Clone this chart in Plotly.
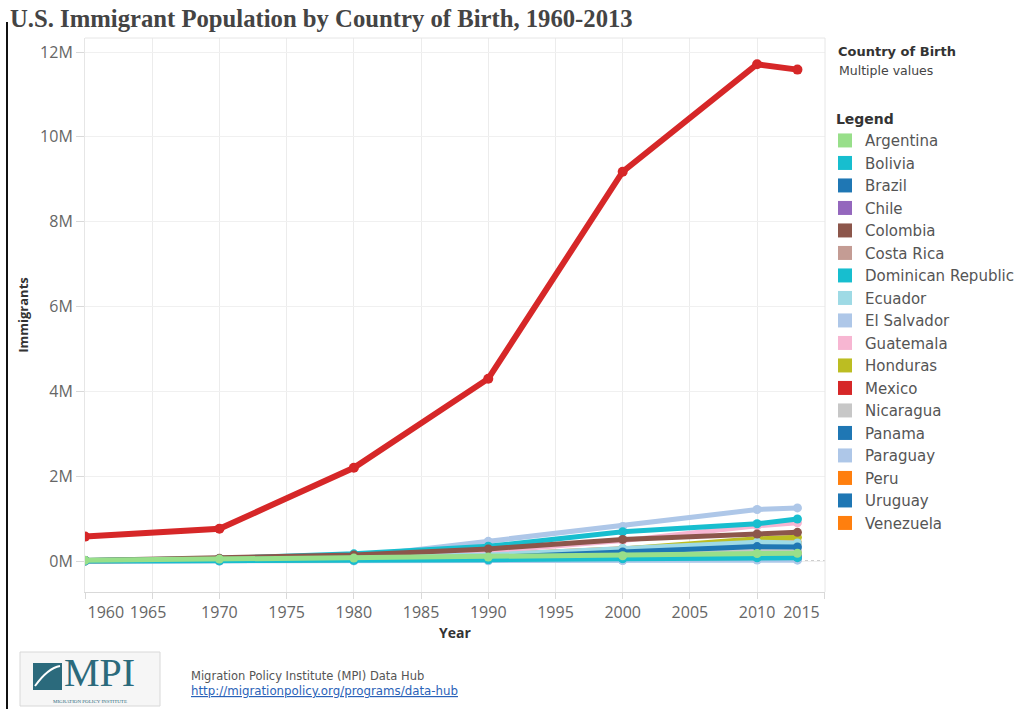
import plotly.graph_objects as go

# ---------------- data ----------------
years = [1960, 1970, 1980, 1990, 2000, 2010, 2013]

countries = ["Argentina", "Bolivia", "Brazil", "Chile", "Colombia", "Costa Rica",
             "Dominican Republic", "Ecuador", "El Salvador", "Guatemala", "Honduras",
             "Mexico", "Nicaragua", "Panama", "Paraguay", "Peru", "Uruguay", "Venezuela"]

argentina = [17000, 45000, 69000, 93000, 125000, 177000, 183000]
bolivia = [3000, 6000, 14000, 31000, 53000, 77000, 79000]
brazil = [14000, 28000, 41000, 82000, 212000, 340000, 331000]
chile = [7000, 15000, 35000, 56000, 81000, 91000, 93000]
colombia = [13000, 64000, 144000, 286000, 510000, 637000, 677000]
costa_rica = [5000, 17000, 30000, 44000, 72000, 87000, 87000]
dominican_republic = [12000, 62000, 169000, 348000, 688000, 879000, 992000]
ecuador = [7000, 37000, 86000, 144000, 299000, 443000, 425000]
el_salvador = [6000, 16000, 94000, 465000, 817000, 1214000, 1253000]
guatemala = [5000, 17000, 63000, 226000, 481000, 831000, 902000]
honduras = [7000, 19000, 39000, 109000, 283000, 523000, 558000]
mexico = [576000, 760000, 2199000, 4298000, 9178000, 11711000, 11585000]
nicaragua = [10000, 16000, 44000, 169000, 220000, 247000, 253000]
panama = [13000, 20000, 61000, 86000, 105000, 104000, 103000]
paraguay = [1000, 2000, 3000, 7000, 11000, 22000, 20000]
peru = [7000, 21000, 55000, 144000, 278000, 429000, 433000]
uruguay = [1400, 5100, 13000, 21000, 25000, 48000, 48000]
venezuela = [6000, 12000, 33000, 43000, 107000, 184000, 198000]

series = [argentina, bolivia, brazil, chile, colombia, costa_rica, dominican_republic,
          ecuador, el_salvador, guatemala, honduras, mexico, nicaragua, panama,
          paraguay, peru, uruguay, venezuela]

colors = ["#98df8a", "#17becf", "#1f77b4", "#9467bd", "#8c564b", "#c49c94",
          "#17becf", "#9edae5", "#aec7e8", "#f7b6d2", "#bcbd22", "#d62728",
          "#c7c7c7", "#1f77b4", "#aec7e8", "#ff7f0e", "#1f77b4", "#ff7f0e"]

y_tickvals = [0, 2e6, 4e6, 6e6, 8e6, 10e6, 12e6]
y_ticktext = ["0M", "2M", "4M", "6M", "8M", "10M", "12M"]
x_tickvals = [1960, 1965, 1970, 1975, 1980, 1985, 1990, 1995, 2000, 2005, 2010, 2015]
x_ticktext = ["1960", "1965", "1970", "1975", "1980", "1985", "1990", "1995",
              "2000", "2005", "2010", "2015"]

# ---------------- layout geometry (screen pixels; body margin removed below) ----------------
W, H = 1027, 709
L, R, T, B = 85, 825, 38, 592   # plot area


def px(x):
    return (x - L) / (R - L)


def py(y):
    return (B - y) / (B - T)


NB = "\u00a0"
x_ticktext_disp = list(x_ticktext)
x_ticktext_disp[0] = NB * 10 + x_ticktext[0]
x_ticktext_disp[1] = x_ticktext[1] + NB * 2
x_ticktext_disp[-1] = x_ticktext[-1] + NB * 11

SANS = "Open Sans"
WIDE = "DejaVu Sans"
fig = go.Figure()

order = list(range(len(countries)))[::-1]
order.remove(11)
order.append(11)
for i in order:
    is_mex = countries[i] == "Mexico"
    fig.add_trace(go.Scatter(
        x=years, y=series[i], mode="lines+markers", name=countries[i],
        line=dict(color=colors[i], width=6 if is_mex else 5),
        marker=dict(color=colors[i], size=10 if is_mex else 9),
        showlegend=False,
    ))

for i, c in enumerate(countries):
    fig.add_trace(go.Scatter(
        x=[None], y=[None], mode="markers", name=c,
        marker=dict(color=colors[i], size=14, symbol="square"),
        showlegend=True, legendrank=i + 1,
    ))

shapes = [
    dict(type="line", xref="x", yref="y", x0=1960, x1=2015.05, y0=0, y1=0,
         line=dict(color="#999999", width=1, dash="dot"), layer="below"),
    dict(type="line", xref="paper", yref="paper", x0=0, x1=1, y0=1, y1=1,
         line=dict(color="#e6e6e6", width=1)),
    dict(type="line", xref="paper", yref="paper", x0=1, x1=1, y0=0, y1=1,
         line=dict(color="#e6e6e6", width=1)),
    dict(type="line", xref="paper", yref="paper", x0=px(7), x1=px(7), y0=py(22), y1=py(709),
         line=dict(color="#111111", width=2)),
    dict(type="rect", xref="paper", yref="paper", x0=px(20), x1=px(160), y0=py(652), y1=py(706),
         line=dict(color="#d8d8d8", width=1), fillcolor="#f6f6f6"),
    dict(type="rect", xref="paper", yref="paper", x0=px(33), x1=px(62), y0=py(663), y1=py(690),
         line=dict(width=0), fillcolor="#2b6a7c"),
    dict(type="path", xref="paper", yref="paper",
         path=f"M {px(35)} {py(686)} Q {px(48)} {py(668)} {px(60)} {py(666)}",
         line=dict(color="white", width=2)),
]

annotations = [
    dict(text="<b>U.S. Immigrant Population by Country of Birth, 1960-2013</b>",
         x=px(8), y=py(19), xref="paper", yref="paper", xanchor="left", yanchor="middle",
         showarrow=False, font=dict(family="Liberation Serif", size=24.7, color="#444444")),
    dict(text="<b>Country of Birth</b>", x=px(836), y=py(51), xref="paper", yref="paper",
         xanchor="left", yanchor="middle", showarrow=False,
         font=dict(family=WIDE, size=13, color="#333333")),
    dict(text="Multiple values", x=px(837), y=py(71), xref="paper", yref="paper",
         xanchor="left", yanchor="middle", showarrow=False,
         font=dict(family=WIDE, size=12.5, color="#444444")),
    dict(text="Migration Policy Institute (MPI) Data Hub", x=px(189), y=py(676),
         xref="paper", yref="paper", xanchor="left", yanchor="middle", showarrow=False,
         font=dict(family=WIDE, size=11.5, color="#555555")),
    dict(text="<a href='http://migrationpolicy.org/programs/data-hub' style='color:#2a62b8'>"
              "<span style='text-decoration:underline'>http://migrationpolicy.org/programs/data-hub</span></a>",
         x=px(189), y=py(691), xref="paper", yref="paper", xanchor="left", yanchor="middle",
         showarrow=False, font=dict(family=WIDE, size=11.8, color="#2a62b8")),
    dict(text="MPI", x=px(63), y=py(696), xref="paper", yref="paper", xanchor="left",
         yanchor="bottom", showarrow=False, borderpad=0,
         font=dict(family="Liberation Serif", size=40, color="#2b6a7c")),
    dict(text="MIGRATION POLICY INSTITUTE", x=px(90), y=py(701), xref="paper", yref="paper",
         xanchor="center", yanchor="middle", showarrow=False, borderpad=0,
         font=dict(family="Liberation Serif", size=5, color="#2b6a7c")),
]

fig.update_layout(
    width=W, height=H,
    margin=dict(l=L, r=W - R, t=T, b=H - B, autoexpand=False),
    paper_bgcolor="white", plot_bgcolor="white",
    showlegend=True,
    legend=dict(
        title=dict(text=NB + NB + "<b>Legend</b>",
                   font=dict(family=WIDE, size=14, color="#333333")),
        x=1.0, xanchor="left", y=py(106), yanchor="top",
        font=dict(family=WIDE, size=15, color="#555555"),
        bgcolor="rgba(0,0,0,0)", itemwidth=30, tracegroupgap=0,
        itemclick=False, itemdoubleclick=False,
    ),
    xaxis=dict(
        range=[1960, 2015.05], tickvals=x_tickvals, ticktext=x_ticktext_disp,
        showgrid=True, gridcolor="#ececec", gridwidth=1,
        showline=True, linecolor="#d9d9d9", linewidth=1,
        ticks="outside", ticklen=6, tickcolor="#d9d9d9",
        tickfont=dict(family=SANS, size=16, color="#666666"),
        title=dict(text="<b>Year</b>", standoff=5,
                   font=dict(family=SANS, size=14, color="#333333")),
        zeroline=False, automargin=False,
    ),
    yaxis=dict(
        range=[-0.73e6, 12.33e6], tickvals=y_tickvals, ticktext=y_ticktext,
        showgrid=True, gridcolor="#f0f0f0", gridwidth=1,
        showline=True, linecolor="#e6e6e6", linewidth=1,
        ticks="outside", ticklen=8, tickcolor="#d9d9d9",
        tickfont=dict(family=SANS, size=16, color="#666666"),
        title=dict(text="<b>Immigrants</b>", standoff=8,
                   font=dict(family="Liberation Sans Narrow, " + SANS, size=13, color="#333333")),
        zeroline=False, automargin=False,
    ),
    shapes=shapes,
    annotations=annotations,
)

fig.write_html("out.html", config={"displayModeBar": False},
               post_script="document.body.style.margin='0px';")
